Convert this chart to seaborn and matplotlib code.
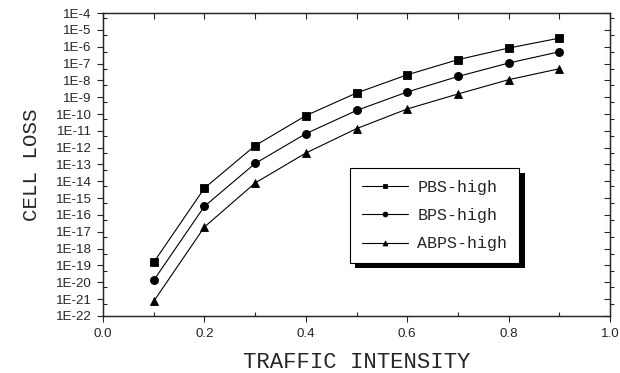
import numpy as np
import pandas as pd
import matplotlib
matplotlib.use("Agg")
import matplotlib.pyplot as plt
import matplotlib.ticker as mticker
import matplotlib.patches as mpatches
from matplotlib.transforms import IdentityTransform
import seaborn as sns

# traffic intensity
traffic = [0.1, 0.2, 0.3, 0.4, 0.5, 0.6, 0.7, 0.8, 0.9]
# log10 of cell loss
pbs_log = [-18.82, -14.41, -11.88, -10.10, -8.75, -7.67, -6.77, -6.08, -5.49]
bps_log = [-19.89, -15.49, -12.94, -11.17, -9.79, -8.69, -7.77, -6.97, -6.30]
abps_log = [-21.14, -16.72, -14.10, -12.32, -10.87, -9.70, -8.81, -7.96, -7.31]

series = [("PBS-high", pbs_log, "s"), ("BPS-high", bps_log, "o"), ("ABPS-high", abps_log, "^")]

sns.set_style("ticks")
plt.rcParams['font.family'] = ['Liberation Sans', 'DejaVu Sans']

fig = plt.figure(figsize=(6.2, 3.73), dpi=100)
ax = fig.add_axes([0.166, 0.153, 0.818, 0.812])

for name, vals, mk in series:
    df = pd.DataFrame({'x': traffic, 'y': 10.0 ** np.array(vals)})
    sns.lineplot(x='x', y='y', data=df, ax=ax, color='k', marker=mk, markersize=5.8,
                 markeredgecolor='k', markeredgewidth=0.6, linewidth=0.8, label=name)

ax.set_yscale('log')
ax.set_ylim(1e-22, 1e-4)
ax.set_xlim(0.0, 1.0)

ax.yaxis.set_major_locator(mticker.LogLocator(base=10, numticks=100))
ax.yaxis.set_minor_locator(mticker.LogLocator(base=10, subs=[5], numticks=100))
ax.yaxis.set_major_formatter(mticker.FuncFormatter(lambda v, p: "1E%d" % int(round(np.log10(v)))))
ax.yaxis.set_minor_formatter(mticker.NullFormatter())
ax.xaxis.set_major_locator(mticker.MultipleLocator(0.2))
ax.xaxis.set_minor_locator(mticker.MultipleLocator(0.1))
ax.xaxis.set_major_formatter(mticker.FormatStrFormatter('%.1f'))

ax.tick_params(which='major', direction='out', length=4, width=0.8, labelsize=9.6)
ax.tick_params(axis='y', which='major', pad=4)
ax.tick_params(axis='x', which='major', pad=5)
ax.tick_params(which='minor', direction='in', length=3, width=0.8)
for s in ax.spines.values():
    s.set_linewidth(0.9)
    s.set_color('k')

# mirrored ticks on top and right
axr = ax.twinx()
axr.set_yscale('log')
axr.set_ylim(1e-22, 1e-4)
axr.yaxis.set_major_locator(mticker.LogLocator(base=10, numticks=100))
axr.yaxis.set_minor_locator(mticker.LogLocator(base=10, subs=[5], numticks=100))
axr.yaxis.set_major_formatter(mticker.NullFormatter())
axr.yaxis.set_minor_formatter(mticker.NullFormatter())
axr.tick_params(which='major', direction='in', length=4, width=0.8)
axr.tick_params(which='minor', direction='out', length=3, width=0.8)
axt = ax.twiny()
axt.set_xlim(0.0, 1.0)
axt.xaxis.set_major_locator(mticker.MultipleLocator(0.2))
axt.xaxis.set_minor_locator(mticker.MultipleLocator(0.1))
axt.xaxis.set_major_formatter(mticker.NullFormatter())
axt.tick_params(which='major', direction='in', length=4, width=0.8)
axt.tick_params(which='minor', direction='in', length=4, width=0.8)

mono = ['Liberation Mono', 'DejaVu Sans Mono']
ax.set_xlabel('TRAFFIC INTENSITY', family=mono, fontsize=16, labelpad=8)
ax.set_ylabel('CELL LOSS', family=mono, fontsize=15, labelpad=11)

leg = ax.legend(loc='upper left', bbox_to_anchor=(0.487, 0.488), frameon=True, fancybox=False,
                edgecolor='k', framealpha=1,
                prop={'family': mono, 'size': 12}, handlelength=2.8, markerscale=0.6,
                borderpad=0.7, labelspacing=0.8, handletextpad=0.55, borderaxespad=0)
leg.get_frame().set_linewidth(0.8)

# black drop shadow behind the legend box
fig.canvas.draw()
bb = leg.get_window_extent()
shadow = mpatches.Rectangle((bb.x0 + 5, bb.y0 - 5), bb.width + 1, bb.height, transform=IdentityTransform(),
                            facecolor='k', edgecolor='none', zorder=4.5, clip_on=False)
ax.add_patch(shadow)

fig.savefig('out.png', dpi=100)
